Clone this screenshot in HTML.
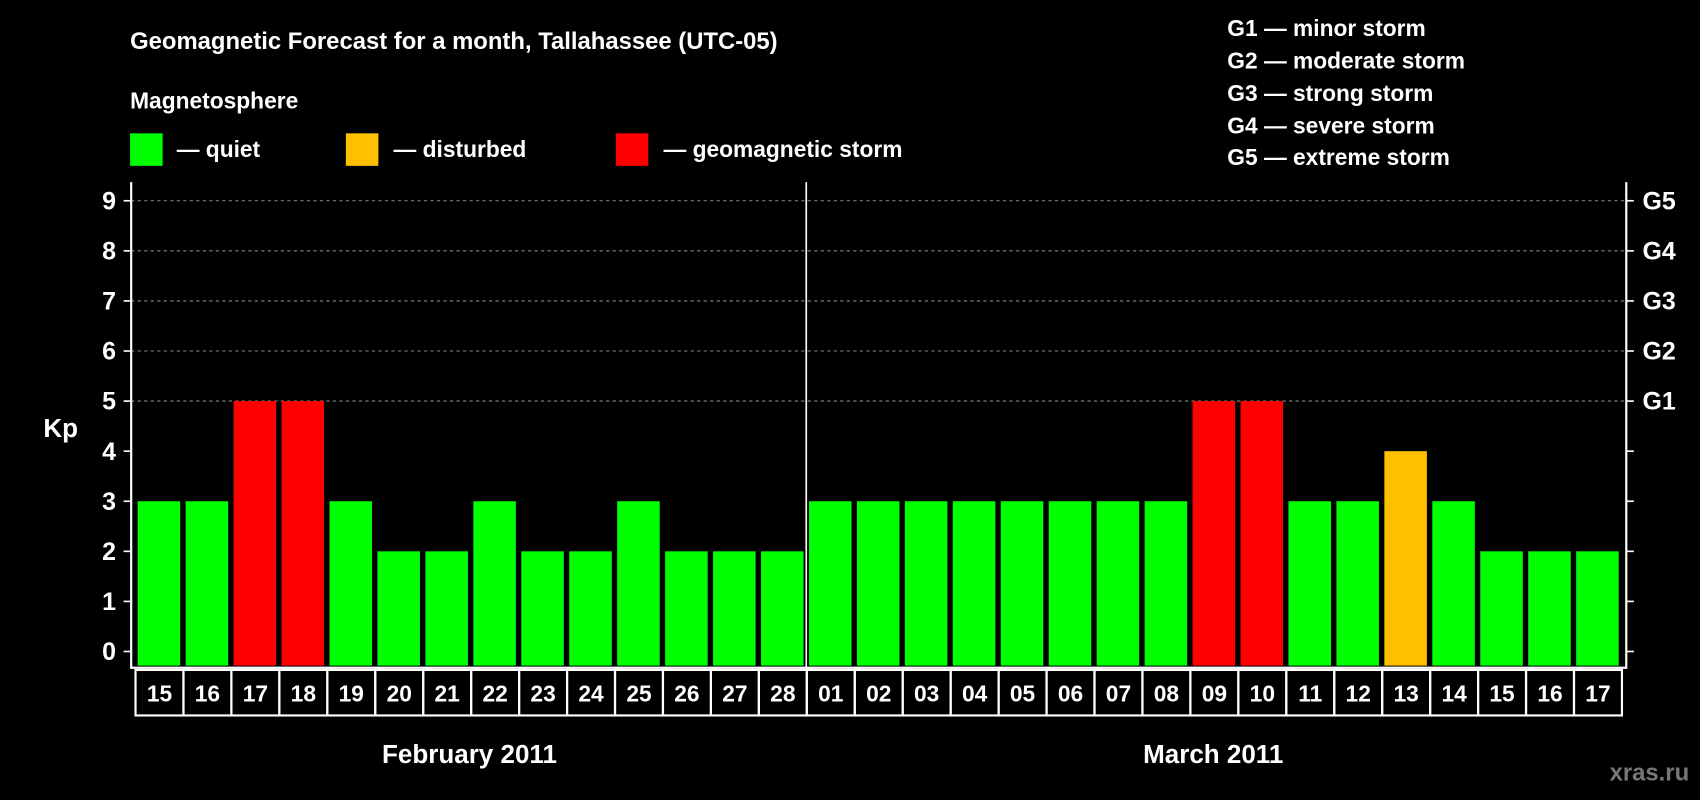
<!DOCTYPE html>
<html><head><meta charset="utf-8"><style>
html,body{margin:0;padding:0;background:#000;}
svg{display:block;font-family:"Liberation Sans",sans-serif;font-weight:bold;}
</style></head><body>
<svg width="1700" height="800" viewBox="0 0 1568 738" preserveAspectRatio="none">
<rect width="1568" height="738" fill="#000"/>
<text x="120" y="45" fill="#fff" font-size="22">Geomagnetic Forecast for a month, Tallahassee (UTC-05)</text>
<text x="120" y="100" fill="#fff" font-size="21">Magnetosphere</text>
<g><rect x="120" y="123" width="30" height="30" fill="#00ff00"/><text x="163" y="145" fill="#fff" font-size="21">— quiet</text></g>
<g><rect x="319" y="123" width="30" height="30" fill="#ffc000"/><text x="363" y="145" fill="#fff" font-size="21">— disturbed</text></g>
<g><rect x="568" y="123" width="30" height="30" fill="#ff0000"/><text x="612" y="145" fill="#fff" font-size="21">— geomagnetic storm</text></g>
<g fill="#fff" font-size="21">
<text x="1132" y="33">G1 — minor storm</text>
<text x="1132" y="63">G2 — moderate storm</text>
<text x="1132" y="93">G3 — strong storm</text>
<text x="1132" y="123">G4 — severe storm</text>
<text x="1132" y="152">G5 — extreme storm</text>
</g>
<text x="40" y="403" fill="#fff" font-size="24">Kp</text>
<g id="plot"></g>
<text x="433" y="704" fill="#fff" font-size="24" text-anchor="middle">February 2011</text>
<text x="1119" y="704" fill="#fff" font-size="24" text-anchor="middle">March 2011</text>
<text x="1558" y="720" fill="#777" font-size="22" text-anchor="end">xras.ru</text>
</svg>
<script>
const days = ["15","16","17","18","19","20","21","22","23","24","25","26","27","28","01","02","03","04","05","06","07","08","09","10","11","12","13","14","15","16","17"];
const kpValues = [3,3,5,5,3,2,2,3,2,2,3,2,2,2,3,3,3,3,3,3,3,3,5,5,3,3,4,3,2,2,2];
const yTicks = [0,1,2,3,4,5,6,7,8,9];
const gLabels = ["G1","G2","G3","G4","G5"];
const NS="http://www.w3.org/2000/svg";
const g=document.getElementById('plot');
const L=121,R=1500,T=168,B=616,X0=125,step=(1496-125)/days.length;
const y=v=>601-v*46.2;
const x=i=>X0+i*step;
function mk(t,a){const e=document.createElementNS(NS,t);for(const k in a)e.setAttribute(k,a[k]);g.appendChild(e);return e;}
// gridlines
yTicks.forEach(v=>{
  if(v>=5){const l=mk('line',{x1:L,x2:R,y1:y(v),y2:y(v),stroke:'#888','stroke-dasharray':'3,3'});
  
  }
  const t=mk('line',{x1:L-7,x2:L,y1:y(v),y2:y(v),stroke:'#fff','stroke-width':1.5});
  
  
  const t2=mk('line',{x1:R,x2:R+7,y1:y(v),y2:y(v),stroke:'#fff','stroke-width':1.5});
  
  
  const lb=mk('text',{x:L-14,y:y(v)+8,fill:'#fff','font-size':23,'text-anchor':'end'});
  lb.textContent=v;
  
  
});
gLabels.forEach((s,i)=>{
  const lb=mk('text',{x:R+15,y:y(5+i)+8,fill:'#fff','font-size':23});
  lb.textContent=s;
  
  
});
kpValues.forEach((v,i)=>{
  const c=v>=5?'#ff0000':(v>=4?'#ffc000':'#00ff00');
  const b=mk('rect',{x:x(i)+2,y:y(v),width:step-5,height:y(0)-y(v)+13,fill:c});
  
  
  const bx=mk('rect',{x:x(i),y:618,width:step,height:42,fill:'none',stroke:'#fff','stroke-width':2});
  
  
  const t=mk('text',{x:x(i)+step/2,y:647,fill:'#fff','font-size':21,'text-anchor':'middle'});
  t.textContent=days[i];
  
  
});
const ax=mk('path',{d:`M${L} ${T} V${B} H${R} V${T}`,fill:'none',stroke:'#fff','stroke-width':2});


const ml=days.indexOf("01");
const sep=mk('line',{x1:x(ml)-0.5,x2:x(ml)-0.5,y1:T,y2:B,stroke:'#fff','stroke-width':1.5});


</script>
</body></html>
